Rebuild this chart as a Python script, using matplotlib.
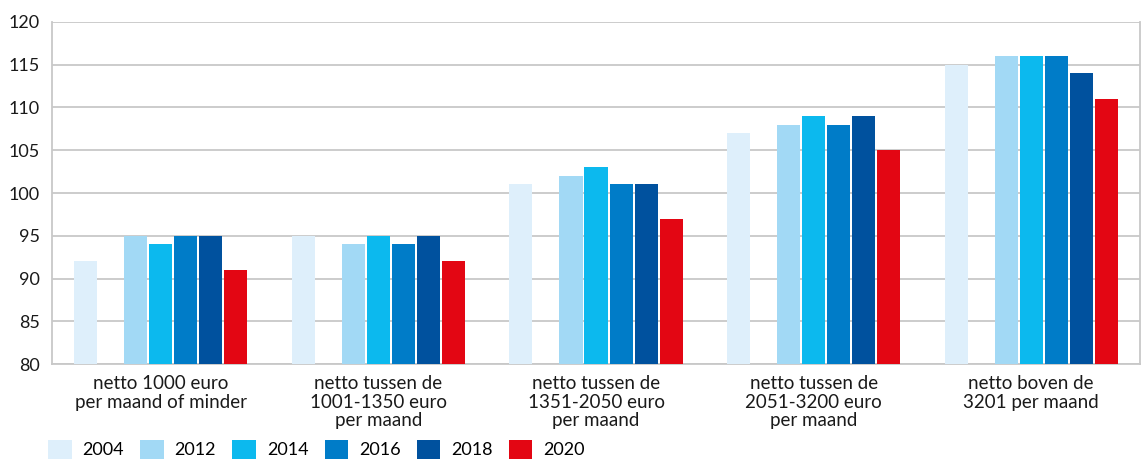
import numpy as np
import matplotlib.pyplot as plt
from matplotlib.patches import Patch

plt.rcParams['font.family'] = ['Lato', 'DejaVu Sans']

# Data
categories = ['netto 1000 euro\nper maand of minder',
              'netto tussen de\n1001-1350 euro\nper maand',
              'netto tussen de\n1351-2050 euro\nper maand',
              'netto tussen de\n2051-3200 euro\nper maand',
              'netto boven de\n3201 per maand']
years = ['2004', '2012', '2014', '2016', '2018', '2020']
v2004 = [92, 95, 101, 107, 115]
v2012 = [95, 94, 102, 108, 116]
v2014 = [94, 95, 103, 109, 116]
v2016 = [95, 94, 101, 108, 116]
v2018 = [95, 95, 101, 109, 114]
v2020 = [91, 92, 97, 105, 111]
series = [v2004, v2012, v2014, v2016, v2018, v2020]
colors = ['#DEEFFB', '#A2D9F5', '#0CB9EE', '#007CC8', '#00519E', '#E30613']

# slot positions inside a group (slot 1 left empty)
slots = [0, 2, 3, 4, 5, 6]
pitch = 0.115
width = 0.106

fig = plt.figure(figsize=(11.44, 4.63), dpi=100)
ax = fig.add_axes([0.0455, 0.2138, 0.951, 0.7387])

x = np.arange(len(categories))
for vals, col, s in zip(series, colors, slots):
    ax.bar(x + (s - 3) * pitch, np.array(vals) - 80, width=width, bottom=80,
           color=col, zorder=3)

ax.set_xlim(-0.5, len(categories) - 0.5)
ax.set_ylim(80, 120)
ax.set_yticks(range(80, 121, 5))
ax.yaxis.grid(True, color='#c8c8c8', linewidth=1.3, zorder=0)
ax.set_xticks(x)
ax.set_xticklabels(categories, fontsize=13.5, color='#1a1a1a', linespacing=1.12)
ax.tick_params(axis='x', length=0, pad=8)
ax.tick_params(axis='y', length=0, pad=9, labelsize=13, labelcolor='#1a1a1a')
ax.spines['top'].set_visible(False)
for sp in ['left', 'right', 'bottom']:
    ax.spines[sp].set_color('#c8c8c8')
    ax.spines[sp].set_linewidth(1.3)

handles = [Patch(facecolor=c, edgecolor='none') for c in colors]
fig.legend(handles, years, loc='lower left', bbox_to_anchor=(0.035, -0.008),
           ncol=6, frameon=False, fontsize=13, handlelength=1.3,
           handleheight=1.2, handletextpad=0.6, columnspacing=0.9,
           borderaxespad=0.05)

fig.savefig('out.png', dpi=100)
